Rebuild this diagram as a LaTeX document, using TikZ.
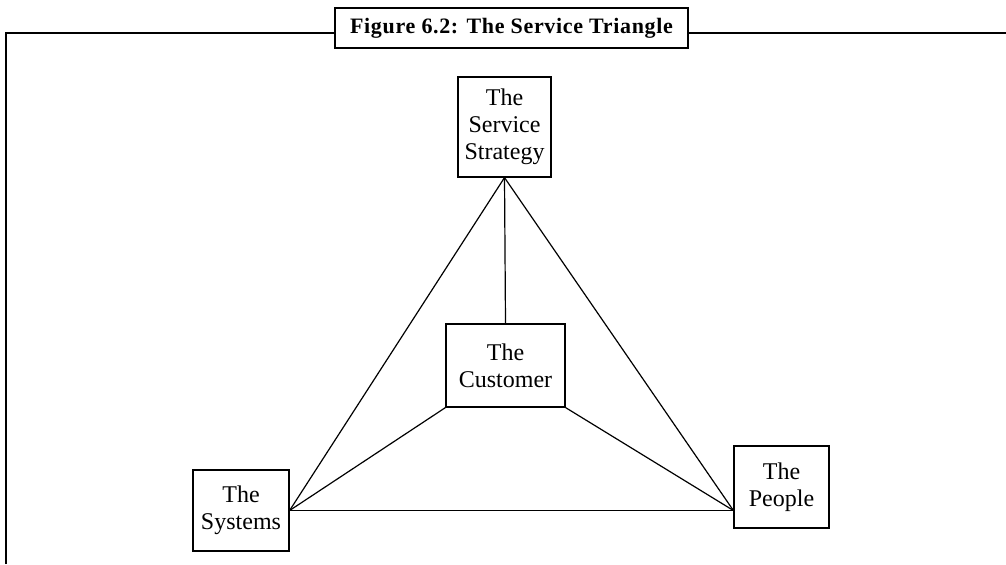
\documentclass[tikz,border=0pt]{standalone}
\usepackage{fontspec}
\setmainfont{Liberation Serif}

\begin{document}
\begin{tikzpicture}[x=0.5pt, y=0.5pt]
\useasboundingbox (0,0) rectangle (1006,564);

% frame and caption
\draw[line width=1pt] (6,0) -- (6,531) -- (1006,531);
\node[draw, line width=1pt, fill=white, minimum width=176.5pt, minimum height=20pt, inner sep=0pt,
  font=\bfseries\fontsize{11}{13}\selectfont\addfontfeatures{LetterSpace=3}](title) at (511.5,536) {Figure 6.2: The Service Triangle};

  \begin{scope}[every node/.style={draw, line width=0.6pt, align=center, inner sep=0pt, font=\fontsize{12}{13.5}\selectfont}]
\node[minimum width=46.5pt, minimum height=50pt](strat) at (504.5,437) {The\\Service\\Strategy};
\node[minimum width=59.5pt, minimum height=41.5pt](cust) at (505.5,198.5) {The\\Customer};
\node[minimum width=48pt, minimum height=40.5pt](sys) at (241,53.5) {The\\Systems};
\node[minimum width=47.5pt, minimum height=41pt](ppl) at (781.5,77) {The\\People};
\end{scope}

\coordinate (pj) at (ppl.west |- sys.east);

\draw[line width=0.6pt] (strat.south) -- (cust.north);
\draw[line width=0.6pt] (strat.south) -- (sys.east);
\draw[line width=0.6pt] (strat.south) -- (pj);
\draw[line width=0.6pt] (cust.south west) -- (sys.east);
\draw[line width=0.6pt] (cust.south east) -- (pj);
\draw[line width=0.6pt] (sys.east) -- (pj);
\end{tikzpicture}
\end{document}
